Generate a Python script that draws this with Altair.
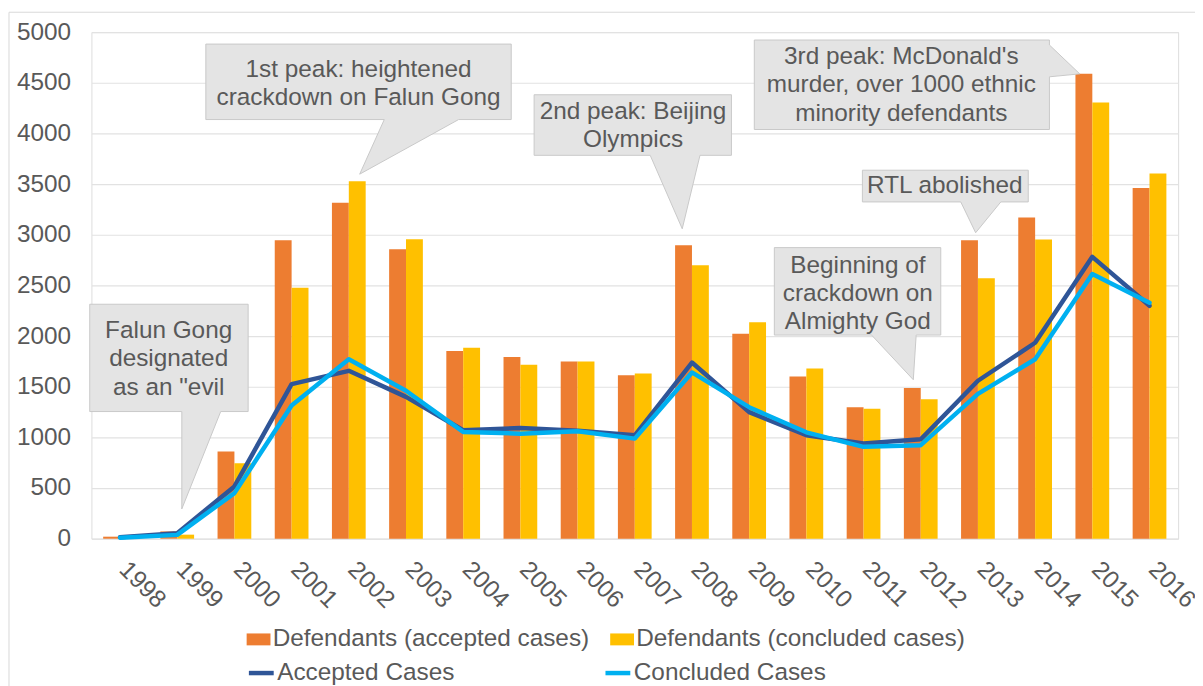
import altair as alt
import pandas as pd

FONT = "Liberation Sans"
TXT = "#595959"

YEARS = [str(y) for y in range(1998, 2017)]
BAR_SERIES = ["Defendants (accepted cases)", "Defendants (concluded cases)"]
LINE_SERIES = ["Accepted Cases", "Concluded Cases"]

DEF_ACCEPTED = [20, 72, 860, 2945, 3317, 2857, 1852, 1794, 1748, 1614, 2896, 2022, 1601, 1298, 1487, 2945, 3170, 4589, 3461]
DEF_CONCLUDED = [5, 40, 744, 2478, 3529, 2955, 1885, 1716, 1748, 1631, 2700, 2136, 1680, 1282, 1377, 2570, 2952, 4305, 3604]
ACCEPTED_CASES = [15, 55, 516, 1526, 1657, 1400, 1070, 1093, 1065, 1021, 1739, 1249, 1021, 939, 981, 1559, 1934, 2782, 2299]
CONCLUDED_CASES = [10, 38, 450, 1314, 1771, 1460, 1054, 1037, 1060, 988, 1641, 1298, 1050, 907, 923, 1429, 1771, 2612, 2330]

BAR_COLORS = ["#ED7D31", "#FFC000"]
LINE_COLORS = ["#2F5597", "#00B0F0"]
Y_TICKS = list(range(0, 5001, 500))

# Callout annotations, in year-slot units (0..19 across the axis) and axis values
CALLOUT_TEXT = [
    "Falun Gong\ndesignated\nas an \"evil",
    "1st peak: heightened\ncrackdown on Falun Gong",
    "2nd peak: Beijing\nOlympics",
    "3rd peak: McDonald's\nmurder, over 1000 ethnic\nminority defendants",
    "RTL abolished",
    "Beginning of\ncrackdown on\nAlmighty God",
]
CALLOUT_TEXT_U = [1.35, 4.67, 9.47, 14.16, 14.92, 13.40]
CALLOUT_TEXT_V = [2050, 4627, 4216, 4755, 3480, 2696]  # first line

CALLOUT1_U = [-0.03, 2.74, 2.74, 2.26, 1.58, 1.58, -0.03]
CALLOUT1_V = [2314, 2314, 1255, 1255, 294, 1255, 1255]
CALLOUT2_U = [2.00, 7.34, 7.34, 6.42, 4.69, 5.12, 2.00]
CALLOUT2_V = [4882, 4882, 4137, 4137, 3598, 4137, 4137]
CALLOUT3_U = [7.74, 11.19, 11.19, 10.64, 10.33, 9.77, 7.74]
CALLOUT3_V = [4382, 4382, 3784, 3784, 3059, 3784, 3784]
CALLOUT4_U = [11.59, 16.75, 16.75, 17.28, 16.75, 16.75, 11.59]
CALLOUT4_V = [4922, 4922, 4873, 4588, 4559, 4039, 4039]
CALLOUT5_U = [13.48, 16.38, 16.38, 15.90, 15.46, 15.20, 13.48]
CALLOUT5_V = [3637, 3637, 3324, 3324, 3020, 3324, 3324]
CALLOUT6_U = [11.94, 14.85, 14.85, 14.42, 14.37, 13.64, 11.94]
CALLOUT6_V = [2873, 2873, 2010, 2010, 1569, 2010, 2010]

n = len(YEARS)
bars_df = pd.DataFrame({
    "year": YEARS * 2,
    "series": [BAR_SERIES[0]] * n + [BAR_SERIES[1]] * n,
    "value": DEF_ACCEPTED + DEF_CONCLUDED,
})
lines_df = pd.DataFrame({
    "year": YEARS * 2,
    "line": [LINE_SERIES[0]] * n + [LINE_SERIES[1]] * n,
    "value": ACCEPTED_CASES + CONCLUDED_CASES,
})

shape_rows = []
for cid, (us, vs) in enumerate([(CALLOUT1_U, CALLOUT1_V), (CALLOUT2_U, CALLOUT2_V),
                                (CALLOUT3_U, CALLOUT3_V), (CALLOUT4_U, CALLOUT4_V),
                                (CALLOUT5_U, CALLOUT5_V), (CALLOUT6_U, CALLOUT6_V)]):
    for k, (u, v) in enumerate(zip(us, vs)):
        shape_rows.append({"cid": cid, "k": k, "u": u, "value": v})
shapes_df = pd.DataFrame(shape_rows)
text_df = pd.DataFrame({"u": CALLOUT_TEXT_U, "value": CALLOUT_TEXT_V, "label": CALLOUT_TEXT})

y_axis = alt.Axis(values=Y_TICKS, format="d", title=None, labelFontSize=24.5, labelColor=TXT,
                  labelPadding=21, ticks=False, domain=False, gridColor="#e2e2e2",
                  gridWidth=1.2, labelFont=FONT)
y_scale = alt.Scale(domain=[0, 5000], nice=False)

x_main = alt.X("year:N", sort=YEARS, title=None,
               scale=alt.Scale(paddingInner=0.41, paddingOuter=0.205),
               axis=alt.Axis(labelAngle=45, labelAlign="left", labelBaseline="middle",
                             labelPadding=27, labelOffset=3, labelFontSize=24.5, labelColor=TXT,
                             ticks=False, domain=False, grid=False, labelOverlap=False,
                             labelFont=FONT))

bars = alt.Chart(bars_df).mark_bar().encode(
    x=x_main,
    xOffset=alt.XOffset("series:N", sort=BAR_SERIES,
                        scale=alt.Scale(paddingInner=0, paddingOuter=0)),
    y=alt.Y("value:Q", scale=y_scale, axis=y_axis),
    color=alt.Color("series:N",
                    scale=alt.Scale(domain=BAR_SERIES, range=BAR_COLORS),
                    legend=alt.Legend(orient="none", legendX=156, legendY=599,
                                      direction="horizontal", columns=2, title=None,
                                      labelFontSize=24.5, labelColor=TXT, labelFont=FONT,
                                      labelLimit=0,
                                      symbolType="M-1,-0.5H1V0.5H-1Z", symbolSize=576,
                                      symbolStrokeWidth=0, symbolOpacity=1,
                                      labelOffset=2, columnPadding=20, padding=0)),
)

lines = alt.Chart(lines_df).mark_line(strokeWidth=4.5, strokeJoin="round", strokeCap="round").encode(
    x=x_main,
    y=alt.Y("value:Q", scale=y_scale, axis=y_axis),
    stroke=alt.Stroke("line:N",
                      scale=alt.Scale(domain=LINE_SERIES, range=LINE_COLORS),
                      legend=alt.Legend(orient="none", legendX=156, legendY=630,
                                        direction="horizontal", columns=2, title=None,
                                        labelFontSize=24.5, labelColor=TXT, labelFont=FONT,
                                        labelLimit=0,
                                        symbolType="stroke", symbolSize=625,
                                        symbolStrokeWidth=4.5, labelOffset=1,
                                        columnPadding=142, padding=0)),
)

x_ann = alt.X("u:Q", scale=alt.Scale(domain=[0, 19], nice=False, zero=False), axis=None)

shapes = alt.Chart(shapes_df).mark_line(
    interpolate="linear-closed", fill="#e4e4e4", stroke="#c9c9c9", strokeWidth=1
).encode(
    x=x_ann,
    y=alt.Y("value:Q", scale=y_scale, axis=y_axis),
    detail="cid:N",
    order="k:Q",
)

texts = alt.Chart(text_df).mark_text(
    font=FONT, fontSize=24.5, color=TXT, lineBreak="\n", lineHeight=28.5,
    align="center", baseline="middle"
).encode(
    x=x_ann,
    y=alt.Y("value:Q", scale=y_scale, axis=y_axis),
    text="label:N",
)

frame = alt.Chart(pd.DataFrame({"a": [0]})).mark_rect(
    filled=False, stroke="#d9d9d9", strokeWidth=1
).encode(
    x=alt.value(-83), x2=alt.value(1200), y=alt.value(-20), y2=alt.value(700)
)

main = alt.layer(bars, lines)
ann = alt.layer(shapes, texts)

chart = alt.layer(frame, main, ann).resolve_scale(x="independent").properties(
    width=1094, height=510,
    autosize=alt.AutoSizeParams(type="none"),
    padding={"left": 84, "top": 22, "right": 17, "bottom": 146},
).configure_view(stroke=None).configure(font=FONT)

chart.save("out.html", embed_options={"renderer": "svg", "actions": False})
